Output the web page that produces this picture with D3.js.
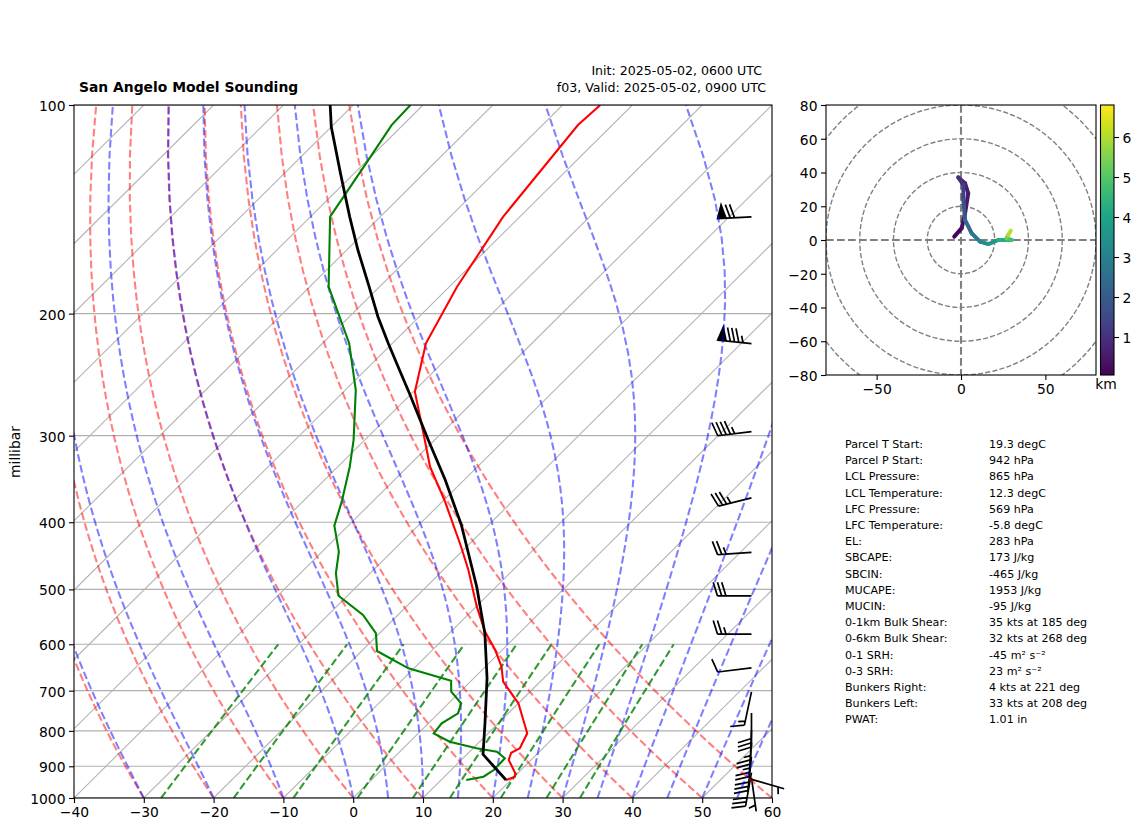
<!DOCTYPE html>
<html>
<head>
<meta charset="utf-8">
<script src="https://cdn.jsdelivr.net/npm/d3@7"></script>
<style>
body { margin: 0; background: #fff; }
svg { display: block; font-family: "DejaVu Sans"; }
</style>
</head>
<body>
<svg id="chart" width="1142" height="832"></svg>
<script>
// sounding profiles, pressure in hPa and temperature in degC
const tempP = [942, 931.7, 920.3, 881.4, 860.3, 847.8, 806.6, 730, 679.5, 646.4, 611.6, 575.5, 529.6, 468.8, 433.9, 373.6, 332.6, 304.4, 259.2, 220.7, 182.9, 144.9, 106.9, 100];
const tempC = [19.3, 20.1, 19.6, 16.8, 16.1, 16.7, 15.6, 10, 4.7, 2.3, -1, -5.1, -9.9, -16.4, -20.8, -29.6, -36.8, -41.4, -49.8, -55.2, -58.9, -62.4, -64.9, -64.6];
const dewP = [942, 931.7, 911.2, 876.4, 857.4, 847.8, 829.4, 806.6, 780.2, 754.7, 730, 702.4, 677.2, 649.9, 613.6, 578.6, 544.4, 510.6, 474, 441.1, 404.6, 373.6, 332.6, 304.4, 257.8, 220.7, 182.9, 144.9, 120, 106.9, 100];
const dewC = [13.6, 15.6, 16.1, 16, 13.9, 10.5, 5.7, 2.2, 1.9, 2.8, 1.8, -1.3, -2.9, -10.8, -17.8, -20.5, -25, -31.3, -34.9, -37.6, -42, -44.4, -48.3, -51.6, -58.5, -66.2, -77.3, -87.2, -89.9, -91.6, -91.8];
const parcelP = [942, 865, 780.2, 671.8, 578.6, 495.5, 403.7, 347.6, 304.4, 260.4, 238.6, 220.7, 202.1, 182.9, 161.9, 144.9, 125.4, 107.5, 100];
const parcelC = [19.3, 12.3, 8.1, 1.9, -4.9, -12.8, -23.9, -32.7, -40.9, -50.4, -55.8, -60.6, -65.9, -71.5, -78.4, -84.4, -92, -100, -103.3];

// wind barbs
const barbP = [145, 221, 296, 369, 442, 511, 580, 649, 703, 754, 798, 832, 872, 919, 935, 940];
const barbSpeed = [70, 85, 45, 35, 25, 30, 25, 10, 15, 30, 25, 25, 30, 30, 5, 5];
const barbDir = [267, 276, 263, 256, 266, 270, 270, 263, 192, 180, 182, 184, 186, 190, 172, 106];

// hodograph
const hodoU = [-4, 0.4, 2.4, 4.3, 2.4, -1.6, 1.4, 1.4, 2.4, 6.3, 11.3, 16.2, 22.1, 30, 27, 28, 29.5];
const hodoV = [2, 7, 15.8, 27.7, 33.6, 37.1, 32.6, 23.7, 11.9, 4, -1, -2.4, 0, 0, 1, 3, 5.5];
const hodoH = [0.05, 0.2, 0.4, 0.55, 0.65, 0.8, 1.1, 1.5, 2, 2.6, 3, 3.4, 3.9, 4.6, 5, 5.6, 6.5];
const hodoRings = [20, 40, 60, 80, 100, 120];

// ticks and background line families
const pressureTicks = [100, 200, 300, 400, 500, 600, 700, 800, 900, 1000];
const tempTicks = [-40, -30, -20, -10, 0, 10, 20, 30, 40, 50, 60];
const isotherms = d3.range(-130, 61, 10);
const dryStart = [-40, -30, -20, -10, 0, 10, 20, 30, 40, 50, 60];
const moistStart = [-40, -30, -20, -10, 0, 5, 10, 15, 20, 25, 30, 35, 40, 45, 50, 55, 60];
const mixRatios = [0.0004, 0.001, 0.002, 0.004, 0.007, 0.01, 0.016, 0.024, 0.032];
const hodoUTicks = [-50, 0, 50];
const hodoVTicks = [-80, -60, -40, -20, 0, 20, 40, 60, 80];
const kmTicks = [1, 2, 3, 4, 5, 6];

const statNames = ["Parcel T Start:", "Parcel P Start:", "LCL Pressure:", "LCL Temperature:", "LFC Pressure:", "LFC Temperature:", "EL:", "SBCAPE:", "SBCIN:", "MUCAPE:", "MUCIN:", "0-1km Bulk Shear:", "0-6km Bulk Shear:", "0-1 SRH:", "0-3 SRH:", "Bunkers Right:", "Bunkers Left:", "PWAT:"];
const statValues = ["19.3 degC", "942 hPa", "865 hPa", "12.3 degC", "569 hPa", "-5.8 degC", "283 hPa", "173 J/kg", "-465 J/kg", "1953 J/kg", "-95 J/kg", "35 kts at 185 deg", "32 kts at 268 deg", "-45 m² s⁻²", "23 m² s⁻²", "4 kts at 221 deg", "33 kts at 208 deg", "1.01 in"];

const svg = d3.select("#chart");
const minus = (d) => String(d).replace("-", "\u2212");

const left = 74, right = 772, top_ = 105, bottom = 798;
const tScale = d3.scaleLinear().domain([-40, 60]).range([left, right]);
const pScale = d3.scaleLog().domain([1000, 100]).range([bottom, top_]);
// skew is 45 degrees in axes fractions, so a full axes height moves a full axes width
const skewX = (t, p) => tScale(t) + (bottom - pScale(p)) * (right - left) / (bottom - top_);

const skewLine = d3.line().x((d) => skewX(d.t, d.p)).y((d) => pScale(d.p));
const toPoints = (ps, ts) => ps.map((p, i) => ({p: p, t: ts[i]}));

svg.append("clipPath").attr("id", "skewClip").append("rect")
    .attr("x", left).attr("y", top_).attr("width", right - left).attr("height", bottom - top_);

// thermodynamics for the background lines
const Rd = 287.05, Cp = 1005, Lv = 2.501e6, eps = 0.622;
const satVapor = (tK) => 6.112 * Math.exp(17.67 * (tK - 273.15) / (tK - 29.65));
const moistSlope = (p, tK) => {
    const es = satVapor(tK);
    const rs = eps * es / (p - es);
    return (Rd * tK + Lv * rs) / (Cp + Lv * Lv * rs * eps / (Rd * tK * tK)) / p;
};
const gridP = d3.range(50).map((i) => 1000 - i * 900 / 49);

const dryLine = (t0) => gridP.map((p) => ({p: p, t: (t0 + 273.15) * Math.pow(p / 1000, Rd / Cp) - 273.15}));
const moistLine = (t0) => {
    let tK = t0 + 273.15;
    const pts = [{p: gridP[0], t: t0}];
    for (let i = 1; i < gridP.length; i++) {
        const h = (gridP[i] - gridP[i - 1]) / 4;
        let p = gridP[i - 1];
        for (let s = 0; s < 4; s++) {
            const k1 = moistSlope(p, tK);
            const k2 = moistSlope(p + h / 2, tK + h * k1 / 2);
            const k3 = moistSlope(p + h / 2, tK + h * k2 / 2);
            const k4 = moistSlope(p + h, tK + h * k3);
            tK += h * (k1 + 2 * k2 + 2 * k3 + k4) / 6;
            p += h;
        }
        pts.push({p: gridP[i], t: tK - 273.15});
    }
    return pts;
};
const mixLine = (w) => d3.range(50).map((i) => {
    const p = 1000 - i * 400 / 49;
    const ln = Math.log(p * w / (eps + w) / 6.112);
    return {p: p, t: 243.5 * ln / (17.67 - ln)};
});

const plot = svg.append("g").attr("clip-path", "url(#skewClip)");

// grid
plot.selectAll(".isobar").data(pressureTicks).join("line")
    .attr("x1", left).attr("x2", right)
    .attr("y1", (d) => pScale(d)).attr("y2", (d) => pScale(d))
    .attr("stroke", "#b0b0b0").attr("stroke-width", 1.1);
plot.selectAll(".isotherm").data(isotherms).join("path")
    .attr("d", (t) => skewLine([{p: 1000, t: t}, {p: 100, t: t}]))
    .attr("fill", "none").attr("stroke", "#b4b4b4").attr("stroke-width", 1.1);

// barbs sit under the dashed lines
const barbX = tScale(57.06), barbLen = 34, barbGap = 4.25, barbTall = 13.6, barbWide = 8.5;
const barbPath = (p, speed, dir) => {
    const a = dir * Math.PI / 180;
    const dx = Math.sin(a), dy = -Math.cos(a);
    const nx = -dy, ny = dx;
    const y0 = pScale(p);
    const tx = barbX + dx * barbLen, ty = y0 + dy * barbLen;
    // along = distance back from the tip, out = distance off the staff
    const at = (along, out) => (tx - dx * along + nx * out) + "," + (ty - dy * along + ny * out);
    let d = "M" + barbX + "," + y0 + "L" + tx + "," + ty;
    let rest = Math.round(speed / 5) * 5;
    let pos = 0;
    while (rest >= 50) {
        d += "M" + at(pos, 0) + "L" + at(pos + barbWide / 2, barbTall) + "L" + at(pos + barbWide, 0) + "Z";
        pos += barbWide + barbGap;
        rest -= 50;
    }
    while (rest >= 10) {
        d += "M" + at(pos, 0) + "L" + at(pos - barbWide / 2, barbTall);
        pos += barbGap;
        rest -= 10;
    }
    if (rest >= 5) {
        if (pos === 0) pos = 1.5 * barbGap;
        d += "M" + at(pos, 0) + "L" + at(pos - barbWide / 4, barbTall / 2);
    }
    return d;
};
svg.append("g").selectAll("path").data(barbP).join("path")
    .attr("d", (p, i) => barbPath(p, barbSpeed[i], barbDir[i]))
    .attr("fill", "#000").attr("stroke", "#000").attr("stroke-width", 1.7);

// dry adiabats, moist adiabats, mixing ratio
const plot2 = svg.append("g").attr("clip-path", "url(#skewClip)");
plot2.selectAll(".dry").data(dryStart).join("path")
    .attr("d", (t) => skewLine(dryLine(t)))
    .attr("fill", "none").attr("stroke", "red").attr("stroke-opacity", 0.5)
    .attr("stroke-width", 2.08).attr("stroke-dasharray", "7.7,3.3");
plot2.selectAll(".moist").data(moistStart).join("path")
    .attr("d", (t) => skewLine(moistLine(t)))
    .attr("fill", "none").attr("stroke", "blue").attr("stroke-opacity", 0.5)
    .attr("stroke-width", 2.08).attr("stroke-dasharray", "7.7,3.3");
plot2.selectAll(".mix").data(mixRatios).join("path")
    .attr("d", (w) => skewLine(mixLine(w)))
    .attr("fill", "none").attr("stroke", "green").attr("stroke-opacity", 0.8)
    .attr("stroke-width", 2.08).attr("stroke-dasharray", "7.7,3.3");

// profiles
plot2.append("path").attr("d", skewLine(toPoints(tempP, tempC)))
    .attr("fill", "none").attr("stroke", "red").attr("stroke-width", 2.08);
plot2.append("path").attr("d", skewLine(toPoints(dewP, dewC)))
    .attr("fill", "none").attr("stroke", "green").attr("stroke-width", 2.08);
plot2.append("path").attr("d", skewLine(toPoints(parcelP, parcelC)))
    .attr("fill", "none").attr("stroke", "black").attr("stroke-width", 2.78);

// axes of the skew-T
const styleAxis = (g) => {
    g.attr("font-family", "DejaVu Sans").attr("font-size", 13.89);
    g.selectAll("line").attr("stroke-width", 1.1);
    g.selectAll("text").attr("transform", "translate(0,1)");
    g.select(".domain").remove();
};
svg.append("g").attr("transform", `translate(${left},0)`)
    .call(d3.axisLeft(pScale).tickValues(pressureTicks).tickFormat(d3.format("d")).tickSize(5).tickPadding(3.5))
    .call(styleAxis);
svg.append("g").attr("transform", `translate(0,${bottom})`)
    .call(d3.axisBottom(tScale).tickValues(tempTicks).tickFormat(minus).tickSize(5).tickPadding(3.5))
    .call(styleAxis);
svg.append("rect").attr("x", left).attr("y", top_).attr("width", right - left).attr("height", bottom - top_)
    .attr("fill", "none").attr("stroke", "#000").attr("stroke-width", 1.1);

svg.append("text").attr("transform", "translate(20,452) rotate(-90)")
    .attr("text-anchor", "middle").attr("font-size", 13.89).text("millibar");
svg.append("text").attr("x", 79).attr("y", 92).attr("font-size", 13.89).attr("font-weight", "bold")
    .text("San Angelo Model Sounding");
svg.append("text").attr("x", 762).attr("y", 75).attr("text-anchor", "end").attr("font-size", 12.6)
    .text("Init: 2025-05-02, 0600 UTC");
svg.append("text").attr("x", 766).attr("y", 92).attr("text-anchor", "end").attr("font-size", 12.6)
    .text("f03, Valid: 2025-05-02, 0900 UTC");

// hodograph
const hLeft = 826, hRight = 1096, hTop = 105, hBottom = 375;
const uScale = d3.scaleLinear().domain([-80, 80]).range([hLeft, hRight]);
const vScale = d3.scaleLinear().domain([-80, 80]).range([hBottom, hTop]);
const heightColor = d3.scaleSequential(d3.interpolateViridis).domain([0.05, 6.8]);

svg.append("clipPath").attr("id", "hodoClip").append("rect")
    .attr("x", hLeft).attr("y", hTop).attr("width", hRight - hLeft).attr("height", hBottom - hTop);
const hodo = svg.append("g").attr("clip-path", "url(#hodoClip)");
hodo.selectAll("circle").data(hodoRings).join("circle")
    .attr("cx", uScale(0)).attr("cy", vScale(0))
    .attr("r", (d) => uScale(d) - uScale(0))
    .attr("fill", "none").attr("stroke", "#808080").attr("stroke-width", 1.39).attr("stroke-dasharray", "5.1,2.2");
hodo.append("line").attr("x1", hLeft).attr("x2", hRight).attr("y1", vScale(0)).attr("y2", vScale(0))
    .attr("stroke", "#808080").attr("stroke-width", 2.08).attr("stroke-dasharray", "7.7,3.3");
hodo.append("line").attr("x1", uScale(0)).attr("x2", uScale(0)).attr("y1", hTop).attr("y2", hBottom)
    .attr("stroke", "#808080").attr("stroke-width", 2.08).attr("stroke-dasharray", "7.7,3.3");
hodo.selectAll(".seg").data(hodoU.slice(1)).join("line")
    .attr("x1", (d, i) => uScale(hodoU[i])).attr("y1", (d, i) => vScale(hodoV[i]))
    .attr("x2", (d, i) => uScale(hodoU[i + 1])).attr("y2", (d, i) => vScale(hodoV[i + 1]))
    .attr("stroke", (d, i) => heightColor((hodoH[i] + hodoH[i + 1]) / 2))
    .attr("stroke-width", 4).attr("stroke-linecap", "round");

svg.append("g").attr("transform", `translate(${hLeft},0)`)
    .call(d3.axisLeft(vScale).tickValues(hodoVTicks).tickFormat(minus).tickSize(5).tickPadding(3.5))
    .call(styleAxis);
svg.append("g").attr("transform", `translate(0,${hBottom})`)
    .call(d3.axisBottom(uScale).tickValues(hodoUTicks).tickFormat(minus).tickSize(5).tickPadding(3.5))
    .call(styleAxis);
svg.append("rect").attr("x", hLeft).attr("y", hTop).attr("width", hRight - hLeft).attr("height", hBottom - hTop)
    .attr("fill", "none").attr("stroke", "#000").attr("stroke-width", 1.1);

// colorbar
const cbLeft = 1100.5, cbWidth = 13.5;
const kmScale = d3.scaleLinear().domain([0.05, 6.8]).range([hBottom, hTop]);
const grad = svg.append("linearGradient").attr("id", "cbGrad").attr("x1", 0).attr("x2", 0).attr("y1", 1).attr("y2", 0);
grad.selectAll("stop").data(d3.range(0, 1.0001, 0.05)).join("stop")
    .attr("offset", (d) => d).attr("stop-color", (d) => d3.interpolateViridis(d));
svg.append("rect").attr("x", cbLeft).attr("y", hTop).attr("width", cbWidth).attr("height", hBottom - hTop)
    .attr("fill", "url(#cbGrad)").attr("stroke", "#000").attr("stroke-width", 1.1);
svg.append("g").attr("transform", `translate(${cbLeft + cbWidth},0)`)
    .call(d3.axisRight(kmScale).tickValues(kmTicks).tickFormat(d3.format("d")).tickSize(5).tickPadding(3.5))
    .call(styleAxis);
svg.append("text").attr("x", 1106).attr("y", 389).attr("text-anchor", "middle").attr("font-size", 13.89).text("km");

// parcel and wind stats
const statY = d3.scaleLinear().domain([0, statNames.length - 1]).range([444, 719.5]);
svg.append("g").selectAll("text").data(statNames).join("text")
    .attr("x", 845).attr("y", (d, i) => statY(i)).attr("dy", "0.36em").attr("font-size", 11.11).text((d) => d);
svg.append("g").selectAll("text").data(statValues).join("text")
    .attr("x", 989).attr("y", (d, i) => statY(i)).attr("dy", "0.36em").attr("font-size", 11.11).text((d) => d);
</script>
</body>
</html>
